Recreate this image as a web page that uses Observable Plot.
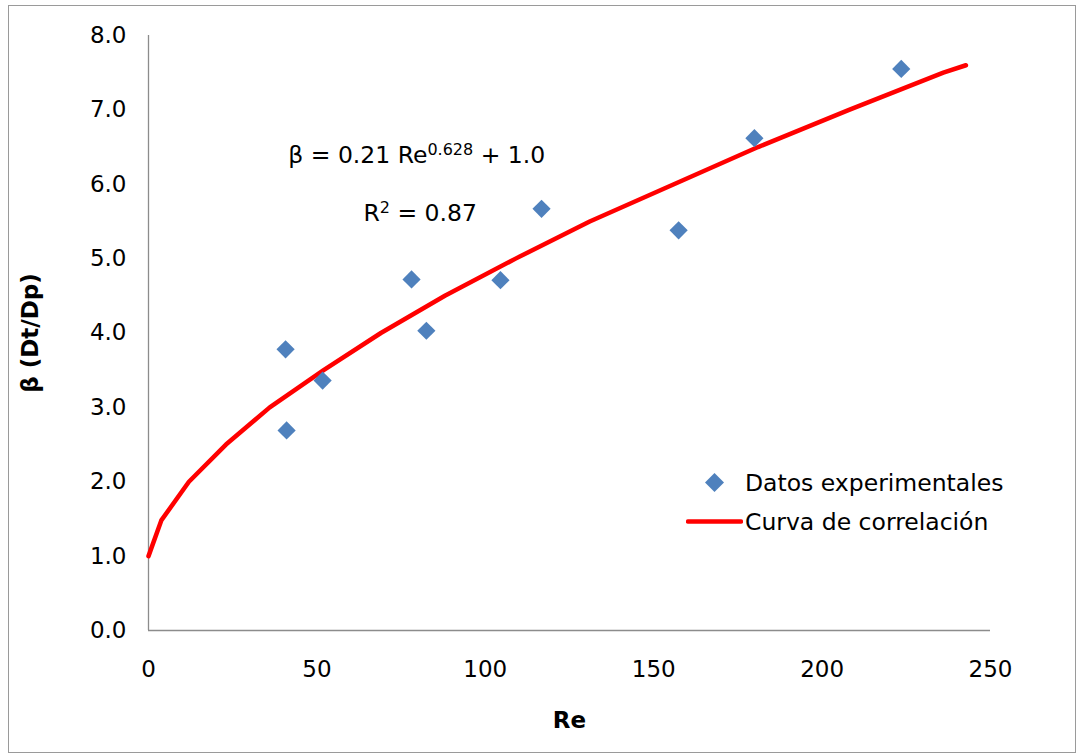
<!DOCTYPE html>
<html>
<head>
<meta charset="utf-8">
<script src="https://cdn.jsdelivr.net/npm/d3@7"></script>
<script src="https://cdn.jsdelivr.net/npm/@observablehq/plot@0.6"></script>
<style>
  body { margin: 0; background: #fff; }
  #wrap { position: relative; width: 1077px; height: 756px; overflow: hidden; }
  #frame { position: absolute; left: 8px; top: 5px; width: 1068px; height: 748px;
           border: 1.5px solid #9a9a9a; box-sizing: border-box; pointer-events: none; }
  #legend { position: absolute; left: 686px; top: 463px; font-family: "DejaVu Sans", sans-serif;
            font-size: 23.5px; color: #000; }
  .row { display: flex; align-items: center; height: 39px; }
  .sw { width: 57px; height: 39px; display: flex; align-items: center; justify-content: center; }
  .row span { margin-left: 2px; white-space: nowrap; }
</style>
</head>
<body>
<div id="wrap">
  <div id="chart"></div>
  <div id="legend"></div>
  <div id="frame"></div>
</div>
<script>
const reExp   = [40.7, 41.0, 51.7, 78.1, 82.5, 104.5, 116.7, 157.4, 179.9, 223.5];
const betaExp = [3.78, 2.69, 3.36, 4.72, 4.03, 4.71, 5.67, 5.38, 6.62, 7.55];

// Correlation curve vertices
const reFit   = [0, 3.8, 12, 23, 36, 52, 69, 88, 109, 131, 156, 181, 208, 236, 242.7];
const betaFit = [1.0, 1.48, 2.0, 2.5, 3.0, 3.5, 4.0, 4.5, 5.0, 5.5, 6.0, 6.5, 7.0, 7.5, 7.6];

// Axes
const xTicks = [0, 50, 100, 150, 200, 250];
const yTicks = [0, 1, 2, 3, 4, 5, 6, 7, 8];
const xLabel = "Re";
const yLabel = "β (Dt/Dp)";

// Legend & annotation text
const legendLabels = ["Datos experimentales", "Curva de correlación"];
const eqnText = ["β = 0.21 Re^0.628 + 1.0", "R^2 = 0.87"];
const eqnRe   = [41.5, 63.8];
const eqnBeta = [6.39, 5.61];

const expData = reExp.map((re, i) => ({re, beta: betaExp[i]}));
const fitData = reFit.map((re, i) => ({re, beta: betaFit[i]}));
const eqnData = eqnText.map((t, i) => ({t, re: eqnRe[i], beta: eqnBeta[i]}));

const blue = "#4f81bd";
const red = "#ff0000";

const chart = Plot.plot({
  width: 1077,
  height: 756,
  marginLeft: 148,
  marginRight: 87,
  marginTop: 35,
  marginBottom: 126,
  style: {fontFamily: "DejaVu Sans, sans-serif", fontSize: "23px", color: "#000", background: "transparent"},
  x: {domain: [0, 250], ticks: xTicks, tickSize: 0, tickPadding: 30, label: xLabel,
      labelAnchor: "center", labelOffset: 97, labelArrow: false},
  y: {domain: [0, 8], ticks: yTicks, tickSize: 0, tickPadding: 22, tickFormat: d3.format(".1f"),
      label: yLabel, labelAnchor: "center", labelOffset: 127, labelArrow: false},
  marks: [
    Plot.ruleX([0], {stroke: "#8c8c8c", strokeWidth: 1.3}),
    Plot.ruleY([0], {stroke: "#8c8c8c", strokeWidth: 1.3}),
    Plot.line(fitData, {x: "re", y: "beta", stroke: red, strokeWidth: 4.5,
                        strokeLinejoin: "round", strokeLinecap: "round"}),
    Plot.dot(expData, {x: "re", y: "beta", symbol: "diamond2", r: 8.2, fill: blue, stroke: "none"}),
    Plot.text(eqnData, {x: "re", y: "beta", text: "t", textAnchor: "start", fontSize: 23.5, fill: "#000"})
  ]
});

const svg = d3.select(chart);
svg.selectAll('g[aria-label="x-axis label"], g[aria-label="y-axis label"]').attr("font-weight", "bold");

// superscripts in annotations
svg.selectAll("text").each(function () {
  const t = this.textContent;
  const m = t.match(/^(.*)\^([\d.]+)(.*)$/);
  if (!m) return;
  const sel = d3.select(this);
  sel.text(null);
  sel.append("tspan").text(m[1]);
  sel.append("tspan").attr("dy", -8).attr("font-size", 16).text(m[2]);
  sel.append("tspan").attr("dy", 8).text(m[3]);
});

document.getElementById("chart").appendChild(chart);

// Legend
const legend = d3.select("#legend");
const r1 = legend.append("div").attr("class", "row");
r1.append("div").attr("class", "sw").html(
  `<svg width="57" height="39"><path d="M28.5,10 L38,19.5 L28.5,29 L19,19.5 Z" fill="${blue}"/></svg>`);
r1.append("span").text(legendLabels[0]);
const r2 = legend.append("div").attr("class", "row");
r2.append("div").attr("class", "sw").html(
  `<svg width="57" height="39"><line x1="2" x2="55" y1="19.5" y2="19.5" stroke="${red}" stroke-width="4.5" stroke-linecap="round"/></svg>`);
r2.append("span").text(legendLabels[1]);
</script>
</body>
</html>
